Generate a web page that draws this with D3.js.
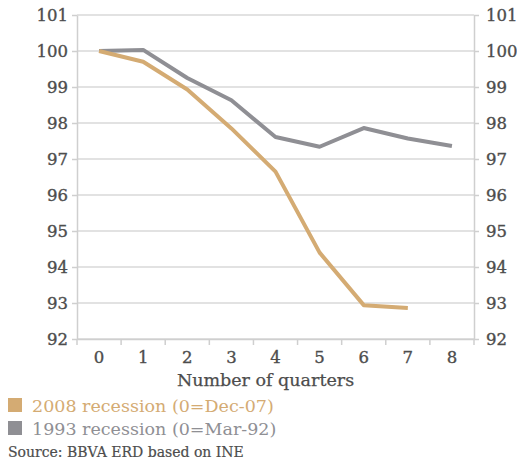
<!DOCTYPE html>
<html>
<head>
<meta charset="utf-8">
<script src="https://cdn.jsdelivr.net/npm/d3@7"></script>
<style>
  body { margin: 0; background: #fff; }
  svg text { font-family: "DejaVu Serif", serif; }
</style>
</head>
<body>
<div id="chart"></div>
<script>
// quarters since start of recession
const quarters = [0, 1, 2, 3, 4, 5, 6, 7, 8];
const yTicks = [92, 93, 94, 95, 96, 97, 98, 99, 100, 101];
// index values (0 = 100)
const rec2008 = [100, 99.7, 98.93, 97.85, 96.65, 94.4, 92.94, 92.86];
const rec1993 = [100, 100.03, 99.25, 98.63, 97.61, 97.34, 97.86, 97.57, 97.36];
const seriesNames = ["2008 recession (0=Dec-07)", "1993 recession (0=Mar-92)"];
const seriesColors = ["#d4ab73", "#8f8f94"];

const width = 517, height = 464;
const margin = { top: 15, right: 43, bottom: 125, left: 77 };
const innerW = width - margin.left - margin.right;
const innerH = height - margin.top - margin.bottom;

const svg = d3.select("#chart").append("svg")
    .attr("width", width)
    .attr("height", height);

const g = svg.append("g")
    .attr("transform", `translate(${margin.left}, ${margin.top})`);

const xScale = d3.scaleBand().domain(quarters).range([0, innerW]);
const yScale = d3.scaleLinear().domain([92, 101]).range([innerH, 0]);

// gridlines
g.selectAll(".grid")
    .data(yTicks)
    .join("line")
    .attr("class", "grid")
    .attr("x1", 0).attr("x2", innerW)
    .attr("y1", d => yScale(d)).attr("y2", d => yScale(d))
    .attr("stroke", "#d9d9d9")
    .attr("stroke-width", 1.5);

const yAxisL = d3.axisLeft(yScale).tickValues(yTicks).tickSize(5).tickPadding(4).tickSizeOuter(0);
const yAxisR = d3.axisRight(yScale).tickValues(yTicks).tickSize(5).tickPadding(7).tickSizeOuter(0);
const xAxis = d3.axisBottom(xScale).tickSize(0).tickPadding(12);

function styleAxis(sel) {
    sel.selectAll("path, line").attr("stroke", "#cfcfcf").attr("stroke-width", 1.5);
    sel.selectAll("text")
        .attr("fill", "#4d4d4d")
        .attr("stroke", "#4d4d4d").attr("stroke-width", 0.35)
        .style("font-size", "16.5px");
}

g.append("g").call(yAxisL).call(styleAxis);
g.append("g").attr("transform", `translate(${innerW}, 0)`).call(yAxisR).call(styleAxis);

const xg = g.append("g").attr("transform", `translate(0, ${innerH})`).call(xAxis).call(styleAxis);
// ticks between categories
xg.selectAll(".sep")
    .data(d3.range(quarters.length + 1))
    .join("line")
    .attr("class", "sep")
    .attr("x1", i => i * xScale.step()).attr("x2", i => i * xScale.step())
    .attr("y1", 0).attr("y2", 6)
    .attr("stroke", "#cfcfcf").attr("stroke-width", 1.5);

g.append("text")
    .attr("x", innerW / 2 - 10)
    .attr("y", innerH + 47)
    .attr("text-anchor", "middle")
    .attr("fill", "#4d4d4d")
    .attr("stroke", "#4d4d4d").attr("stroke-width", 0.25)
    .style("font-size", "17.5px")
    .text("Number of quarters");

const line = d3.line()
    .x((d, i) => xScale(quarters[i]) + xScale.bandwidth() / 2)
    .y(d => yScale(d));

[rec1993, rec2008].forEach((s, k) => {
    g.append("path")
        .datum(s)
        .attr("fill", "none")
        .attr("stroke", k === 0 ? seriesColors[1] : seriesColors[0])
        .attr("stroke-width", 4)
        .attr("stroke-linejoin", "round")
        .attr("d", line);
});

// legend
const legend = svg.append("g").attr("transform", "translate(8, 398)");
seriesNames.forEach((name, i) => {
    const row = legend.append("g").attr("transform", `translate(0, ${i * 23})`);
    row.append("rect")
        .attr("width", 14).attr("height", 14)
        .attr("fill", seriesColors[i]);
    row.append("text")
        .attr("x", 24).attr("y", 14)
        .attr("fill", seriesColors[i])
        .style("font-size", "17.5px")
        .text(name);
});

svg.append("text")
    .attr("x", 8).attr("y", 457)
    .attr("fill", "#4d4d4d")
    .attr("stroke", "#4d4d4d").attr("stroke-width", 0.2)
    .style("font-size", "14px")
    .text("Source: BBVA ERD based on INE");
</script>
</body>
</html>
